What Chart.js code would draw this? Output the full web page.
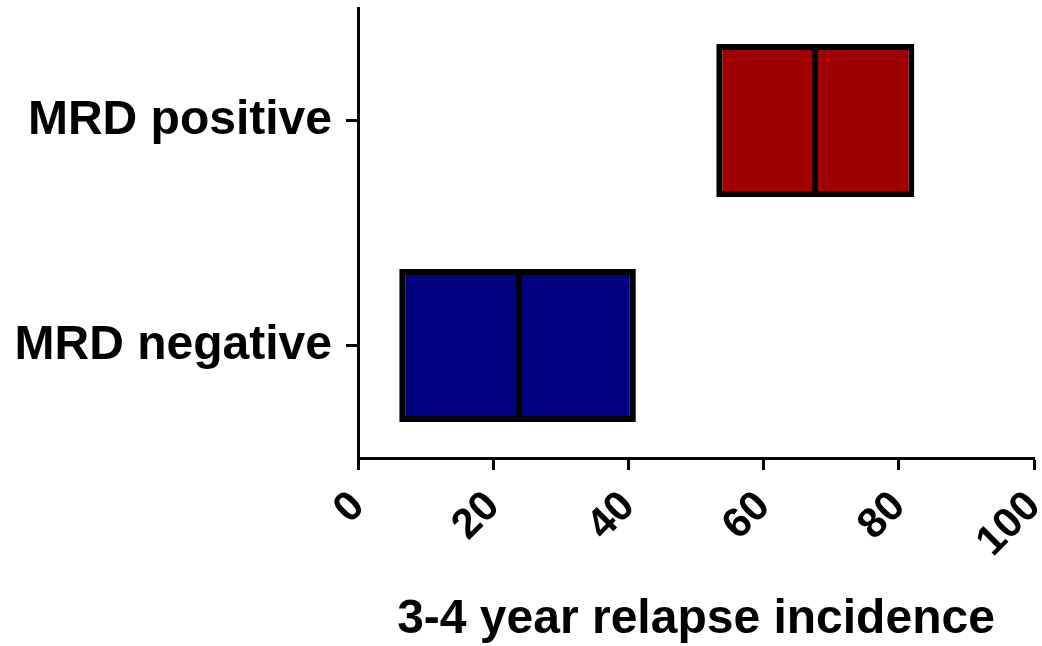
<!DOCTYPE html>
<html>
<head>
<meta charset="utf-8">
<script src="https://cdn.jsdelivr.net/npm/chart.js@4/dist/chart.umd.min.js"></script>
<style>
  html, body { margin: 0; padding: 0; background: #ffffff; }
  #wrap { width: 1042px; height: 646px; position: relative; }
</style>
</head>
<body>
<div id="wrap"><canvas id="c"></canvas></div>
<script>
const categories = ['MRD positive', 'MRD negative'];
const lowValues = [53.0, 6.1];
const highValues = [82.3, 41.1];
const medianValues = [67.6, 23.8];
const barColors = ['#a00000', '#000080'];
const xTickValues = [0, 20, 40, 60, 80, 100];
const xTitle = '3-4 year relapse incidence';

const FONT = '"Liberation Sans", Arial, sans-serif';

const medianPlugin = {
  id: 'medianLines',
  afterDatasetsDraw(chart) {
    const ctx = chart.ctx;
    const meta = chart.getDatasetMeta(0);
    const xs = chart.scales.x;
    ctx.save();
    ctx.strokeStyle = '#000000';
    ctx.lineWidth = 5.5;
    meta.data.forEach((bar, i) => {
      const p = bar.getProps(['y', 'height'], true);
      const x = xs.getPixelForValue(medianValues[i]);
      ctx.beginPath();
      ctx.moveTo(x, p.y - p.height / 2);
      ctx.lineTo(x, p.y + p.height / 2);
      ctx.stroke();
    });
    ctx.restore();
  }
};

new Chart(document.getElementById('c'), {
  type: 'bar',
  data: {
    labels: categories,
    datasets: [{
      data: categories.map((c, i) => [lowValues[i], highValues[i]]),
      backgroundColor: barColors,
      borderColor: '#000000',
      borderWidth: 6,
      borderSkipped: false,
      barPercentage: 0.68,
      categoryPercentage: 1.0
    }]
  },
  options: {
    indexAxis: 'y',
    responsive: true,
    maintainAspectRatio: false,
    animation: false,
    layout: { padding: { left: 15, top: 8, right: 8, bottom: 0 } },
    plugins: {
      legend: { display: false },
      tooltip: { enabled: false }
    },
    scales: {
      x: {
        type: 'linear',
        min: 0,
        max: 100,
        afterBuildTicks(scale) { scale.ticks = xTickValues.map(v => ({ value: v })); },
        afterFit(scale) {
          scale.height = 188;
          scale.paddingLeft = 0;
          scale.paddingRight = 0;
        },
        grid: {
          display: true,
          drawOnChartArea: false,
          drawTicks: true,
          tickLength: 12,
          tickWidth: 3,
          tickColor: '#000000'
        },
        border: { display: true, color: '#000000', width: 3 },
        ticks: {
          color: '#000000',
          font: { family: FONT, size: 42, weight: 'bold' },
          minRotation: 45,
          maxRotation: 45,
          padding: 12
        },
        title: {
          display: true,
          text: xTitle,
          color: '#000000',
          font: { family: FONT, size: 48, weight: 'bold' },
          padding: { top: 0, bottom: -3 }
        }
      },
      y: {
        afterFit(scale) {
          scale.width = 343;
          scale.paddingTop = 0;
          scale.paddingBottom = 0;
        },
        grid: {
          display: true,
          offset: false,
          drawOnChartArea: false,
          drawTicks: true,
          tickLength: 12,
          tickWidth: 3,
          tickColor: '#000000'
        },
        border: { display: true, color: '#000000', width: 3 },
        ticks: {
          color: '#000000',
          font: { family: FONT, size: 48, weight: 'bold' },
          padding: 14
        }
      }
    }
  },
  plugins: [medianPlugin]
});
</script>
</body>
</html>
